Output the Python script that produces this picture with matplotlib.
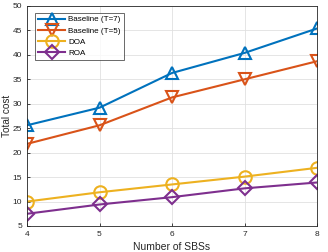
import matplotlib
matplotlib.use("Agg")
import matplotlib.pyplot as plt

plt.rcParams['font.family'] = ['Liberation Sans', 'DejaVu Sans']

sbs = [4, 5, 6, 7, 8]
baseline_t7 = [25.6, 29.2, 36.3, 40.4, 45.4]
baseline_t5 = [21.8, 25.6, 31.3, 35.0, 38.7]
doa = [10.0, 11.9, 13.5, 15.1, 16.9]
roa = [7.5, 9.4, 10.9, 12.7, 13.9]

series = [
    ("Baseline (T=7)", baseline_t7, '^', (0, 0.447, 0.741)),
    ("Baseline (T=5)", baseline_t5, 'v', (0.85, 0.325, 0.098)),
    ("DOA", doa, 'o', (0.929, 0.694, 0.125)),
    ("ROA", roa, 'D', (0.494, 0.184, 0.556)),
]

dark = (0.15, 0.15, 0.15)
fig = plt.figure(figsize=(3.28, 2.52), dpi=100)
ax = fig.add_axes([27/328, 1-226/252, 290/328, 220/252])

for label, vals, m, c in series:
    ms = 9 if m != 'D' else 7.5
    ax.plot(sbs, vals, marker=m, color=c, lw=1.5, ms=ms, mfc='none', mew=1.5, label=label)

ax.set_xlim(4, 8)
ax.set_ylim(5, 50)
ax.set_xticks([4, 5, 6, 7, 8])
ax.set_yticks(range(5, 51, 5))
ax.grid(True, color=(0.88, 0.88, 0.88), lw=0.6)
ax.set_axisbelow(True)
for s in ax.spines.values():
    s.set_color(dark)
    s.set_linewidth(0.6)
ax.tick_params(labelsize=6, colors=dark, length=2, width=0.6, direction='in', pad=3.5)
ax.set_xlabel("Number of SBSs", fontsize=7.5, color=dark, labelpad=3)
ax.yaxis.set_label_coords(-20/290, 0.5)
ax.set_ylabel("Total cost", fontsize=7.2, color=dark, va='center')

leg = ax.legend(loc='upper left', fontsize=5.8, frameon=True, fancybox=False,
                edgecolor=dark, borderpad=0.35, labelspacing=0.45,
                handlelength=3.4, handletextpad=0.4, borderaxespad=0,
                bbox_to_anchor=(8/290, 1-7/220))
leg.get_frame().set_linewidth(0.6)

fig.savefig("out.png", dpi=100)
